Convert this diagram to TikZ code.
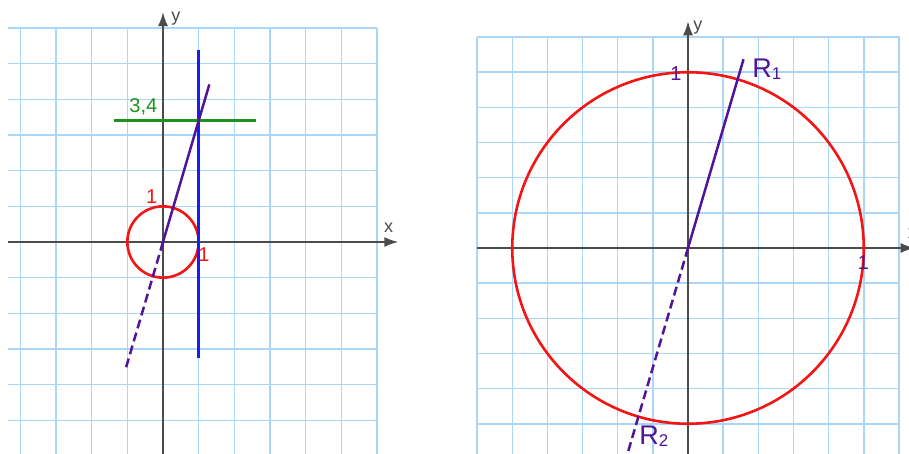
\documentclass[tikz,border=0pt]{standalone}
\usepackage{fontspec}
\setmainfont{Liberation Sans}
\usetikzlibrary{arrows.meta}

\definecolor{gridblue}{RGB}{170,214,250}
\definecolor{axisgray}{RGB}{75,75,75}
\definecolor{circred}{RGB}{245,20,20}
\definecolor{lineblue}{RGB}{20,30,245}
\definecolor{linegreen}{RGB}{30,145,30}
\definecolor{raypurple}{RGB}{80,20,150}

\begin{document}
\begin{tikzpicture}[
    x=1pt, y=1pt,
    gridline/.style={draw=gridblue, line width=1.5pt, step=1},
    axis/.style={draw=axisgray, line width=1.8pt, -{Latex[length=14pt,width=10pt]}},
    ray/.style={draw=raypurple, line width=2.5pt},
    rayback/.style={ray, dash pattern=on 9pt off 4.5pt},
    axislabel/.style={inner sep=0pt, text=axisgray, font=\fontsize{18}{20}\selectfont},
    numlabel/.style={inner sep=0pt, font=\fontsize{20}{24}\selectfont},
    rlabel/.style={inner sep=0pt, text=raypurple, font=\fontsize{27}{30}\selectfont}
]
    \useasboundingbox (0,0) rectangle (909,-454);

    % Left: unit circle, tangent x = 1 and level 3,4
    \begin{scope}[xshift=163pt, yshift=-242pt, x=35.65pt, y=35.65pt]
        \draw[gridline] (-4.34,-5.95) grid (6.01,6.01);
        \draw[axis] (-4.34,0) -- (6.6,0);
        \draw[axis] (0,-5.95) -- (0,6.45);
        \node[axislabel] (lx) at (6.33,0.39) {x};
        \node[axislabel] (ly) at (0.36,6.26) {y};

        \coordinate (O) at (0,0);
        \coordinate (Tbot) at (1,-3.25);
        \coordinate (Ttop) at (1,5.38);
        \coordinate (Gl) at (-1.37,3.4);
        \coordinate (Gr) at (2.6,3.4);
        \coordinate (Pend) at (1.3,4.42);
        \coordinate (Pback) at (-1.06,-3.6);

        \draw[circred, line width=2.6pt] (O) circle (1);
        \draw[lineblue, line width=3pt] (Tbot) -- (Ttop);
        \draw[linegreen, line width=2.6pt] (Gl) -- (Gr);
        \draw[ray] (O) -- (Pend);
        \draw[rayback] (O) -- (Pback);

        \node[numlabel, text=linegreen] (l34) at (-0.55,3.8) {3,4};
        \node[numlabel, text=circred] (lone) at (-0.32,1.26) {1};
        \node[numlabel, text=circred] (rone) at (1.15,-0.36) {1};
    \end{scope}

    % Right: unit circle with the two points R1, R2
    \begin{scope}[xshift=688pt, yshift=-248pt, x=35.15pt, y=35.15pt]
        \draw[gridline] (-6,-5.87) grid (6.03,6.01);
        \draw[axis] (-6.01,0) -- (6.45,0);
        \draw[axis] (0,-5.87) -- (0,6.45);
        \node[axislabel] (rx) at (6.38,0.4) {x};
        \node[axislabel] (ry) at (0.28,6.27) {y};

        \coordinate (Q) at (0,0);
        \coordinate (Qend) at (1.58,5.37);
        \coordinate (Qback) at (-1.75,-5.95);

        \draw[circred, line width=2.6pt] (Q) circle (5);
        \draw[ray] (Q) -- (Qend);
        \draw[rayback] (Q) -- (Qback);

        \node[numlabel, text=raypurple] (topone) at (-0.34,4.96) {1};
        \node[numlabel, text=raypurple] (sideone) at (4.99,-0.43) {1};
        \node[rlabel] (R1) at (2.24,5.1) {R\raisebox{-2pt}{\fontsize{17}{20}\selectfont 1}};
        \node[rlabel] (R2) at (-0.97,-5.36) {R\raisebox{-2pt}{\fontsize{17}{20}\selectfont 2}};
    \end{scope}
\end{tikzpicture}
\end{document}
